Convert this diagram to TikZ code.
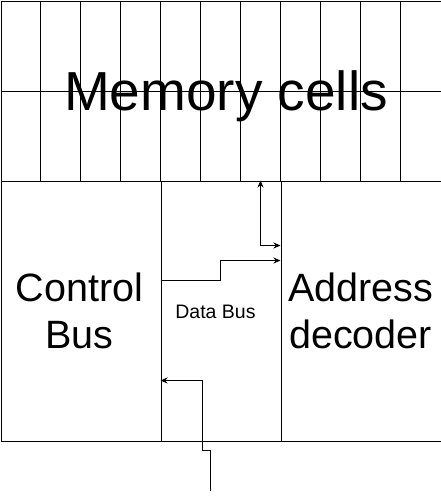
\documentclass[tikz,border=0pt]{standalone}
\usepackage{fontspec}
\setmainfont{Liberation Sans}
\usetikzlibrary{arrows.meta}
\tikzset{
  box/.style={draw, line width=1pt, inner sep=0pt, anchor=north west},
  grid/.style={line width=1pt},
  conn/.style={line width=1pt},
  tip/.style={-{Stealth[length=7pt,width=6pt]}},
  bigtext/.style={font=\fontsize{55}{62}\selectfont, inner sep=0pt},
  midtext/.style={font=\fontsize{39.5}{47}\selectfont, inner sep=0pt, align=center},
  smalltext/.style={font=\fontsize{19.5}{22}\selectfont, inner sep=0pt}
}
\begin{document}
\begin{tikzpicture}[x=1pt,y=-1pt]
\useasboundingbox (0,0) rectangle (441,499);
% boxes
\node[box, minimum width=440pt, minimum height=180pt] (mem) at (0.5,0.5) {};
\foreach \i in {1,...,10} {
  \draw[grid] (0.5+40*\i,0.5) -- (0.5+40*\i,180.5);
}
\draw[grid] (mem.west) -- (mem.east);
\node[box, minimum width=160pt, minimum height=260pt] (ctrl) at (0.5,180.5) {};
\node[box, minimum width=120pt, minimum height=260pt] (data) at (160.5,180.5) {};
\node[box, minimum width=160pt, minimum height=260pt] (addr) at (280.5,180.5) {};
% texts
\node[bigtext, anchor=base] (memtxt) at (226,110) {Memory cells};
\node[midtext, anchor=base] (ctrltxt) at (79.5,348) {Control\\Bus};
\node[midtext, anchor=base] (addrtxt) at (360.5,348) {Address\\decoder};
\node[smalltext, anchor=base] (datatxt) at (215.5,318) {Data Bus};
% connector coordinates
\coordinate (a1) at (260.5,180.5);
\coordinate (a2) at (260.5,245.5);
\coordinate (a3) at (280.5,245.5);
\coordinate (b1) at (160.5,280.5);
\coordinate (b2) at (220.5,280.5);
\coordinate (b3) at (220.5,260.5);
\coordinate (b4) at (280.5,260.5);
\coordinate (c1) at (210.5,490.5);
\coordinate (c2) at (210.5,450.5);
\coordinate (c3) at (202.5,450.5);
\coordinate (c4) at (202.5,380.5);
\coordinate (c5) at (160.5,380.5);
\draw[conn, {Stealth[length=7pt,width=6pt]}-{Stealth[length=7pt,width=6pt]}] (a1) -- (a2) -- (a3);
\draw[conn, tip] (b1) -- (b2) -- (b3) -- (b4);
\draw[conn, tip] (c1) -- (c2) -- (c3) -- (c4) -- (c5);
\end{tikzpicture}
\end{document}
